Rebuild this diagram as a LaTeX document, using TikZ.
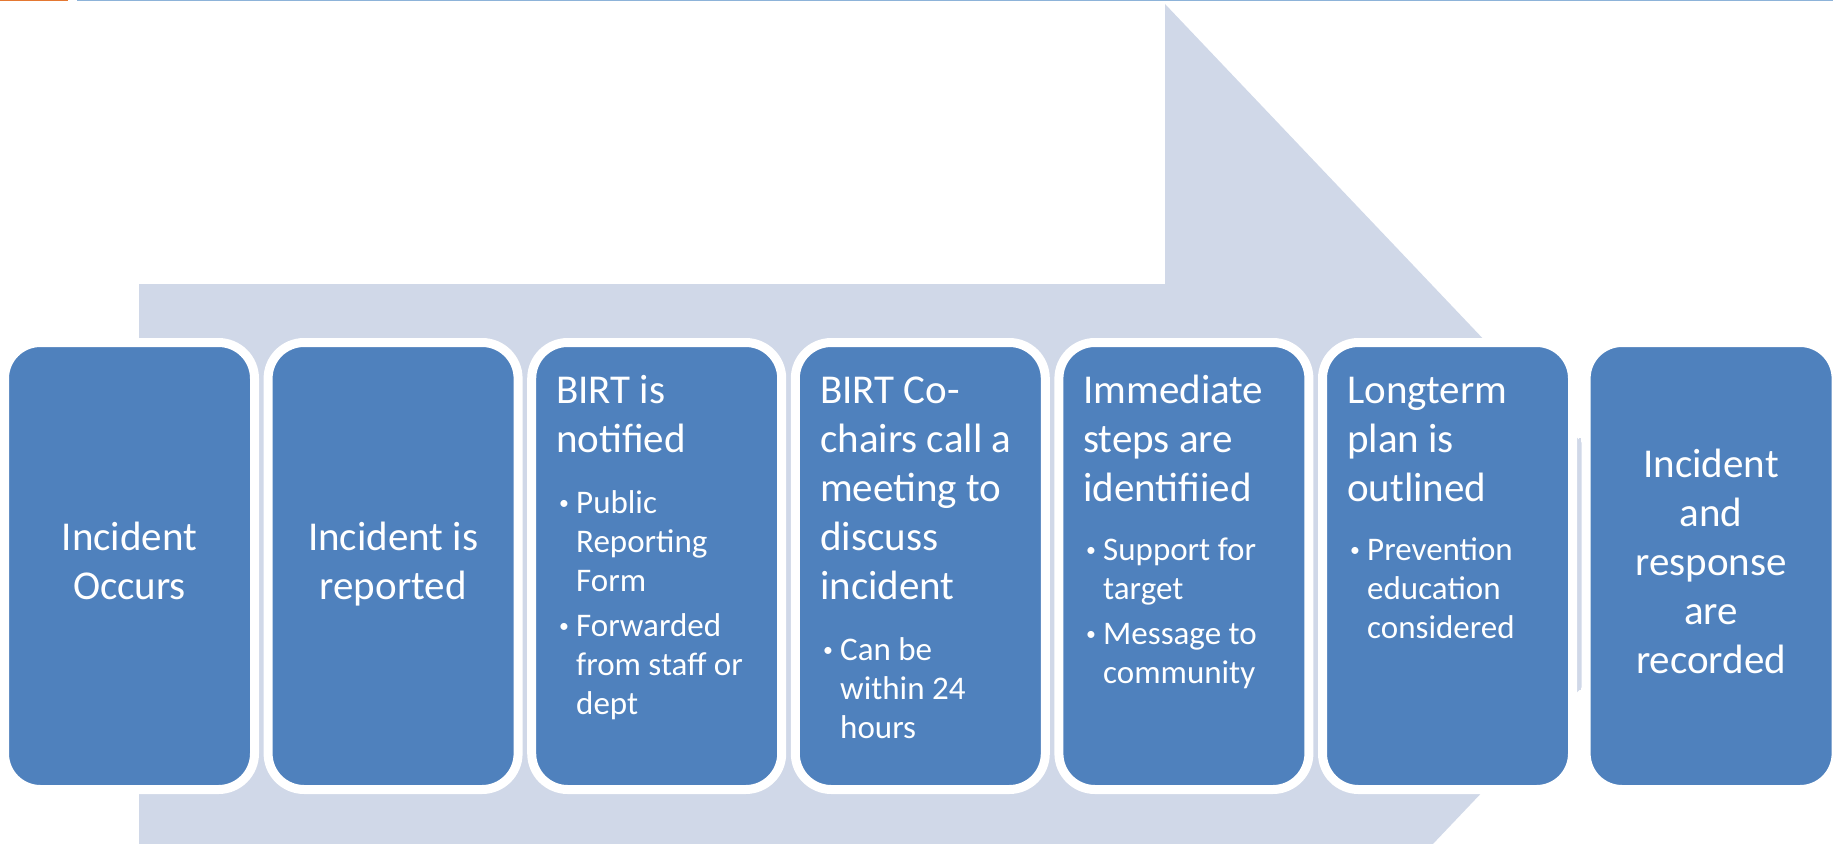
\documentclass[tikz,border=0pt]{standalone}
\usepackage{fontspec}
\setmainfont{Carlito}

\definecolor{boxblue}{RGB}{79,129,189}
\definecolor{arrowgray}{RGB}{208,216,232}
\definecolor{lineorange}{RGB}{228,120,50}
\definecolor{lineblue}{RGB}{141,179,217}

\newcommand{\lines}[2][l]{\begin{tabular}[t]{@{}#1@{}}#2\end{tabular}}
\newcommand{\bul}{\makebox[20pt][l]{\hspace{3pt}\raisebox{4pt}{\scalebox{0.6}{\textbullet}}}}
\newcommand{\ind}{\hspace{20pt}}

\tikzset{
	stepbox/.style={draw=white, line width=9pt, fill=boxblue, rounded corners=36pt,
		minimum width=250pt, minimum height=447pt, inner sep=0pt},
	ttl/.style={text=white, inner sep=0pt, font=\fontsize{41}{49}\selectfont},
	bullets/.style={text=white, inner sep=0pt, font=\fontsize{33}{39}\selectfont},
}

\begin{document}
\begin{tikzpicture}[x=1pt,y=-1pt]
		\useasboundingbox (0,0) rectangle (1833,843);
		\clip (0,0) rectangle (1833,843);
		% big arrow behind the steps
		\fill[arrowgray] (139,284) -- (1165,284) -- (1165,4) -- (1698,565) -- (1165,1126) -- (1165,846) -- (139,846) -- cycle;
		\draw[lineorange, line width=1.5pt] (0,0.75) -- (68,0.75);
		\draw[lineblue, line width=1.5pt] (77,0.75) -- (1833,0.75);
		\draw[arrowgray, line width=2pt] (1580,438) -- (1580,690);
		% the seven steps
		\foreach \i/\x in {1/129.5, 2/393.1, 3/656.7, 4/920.3, 5/1183.9, 6/1447.5, 7/1711.1}
			\node[stepbox] (b\i) at (\x,566) {};
		\node[ttl, anchor=base] (t1) at (129.5,550) {\lines[c]{Incident\\Occurs}};
		\node[ttl, anchor=base] (t2) at (393.1,550) {\lines[c]{Incident is\\reported}};
		\node[ttl, anchor=base west] (t3) at (556,403) {\lines{BIRT is\\notified}};
		\node[bullets, anchor=base west] (l3) at (556,513) {\lines{\bul Public\\\ind Reporting\\\ind Form\\[6pt]\bul Forwarded\\\ind from staff or\\\ind dept}};
		\node[ttl, anchor=base west] (t4) at (820,403) {\lines{BIRT Co-\\chairs call a\\meeting to\\discuss\\incident}};
		\node[bullets, anchor=base west] (l4) at (820,660) {\lines{\bul Can be\\\ind within 24\\\ind hours}};
		\node[ttl, anchor=base west] (t5) at (1083,403) {\lines{Immediate\\steps are\\identifiied}};
		\node[bullets, anchor=base west] (l5) at (1083,560) {\lines{\bul Support for\\\ind target\\[6pt]\bul Message to\\\ind community}};
		\node[ttl, anchor=base west] (t6) at (1347,403) {\lines{Longterm\\plan is\\outlined}};
		\node[bullets, anchor=base west] (l6) at (1347,560) {\lines{\bul Prevention\\\ind education\\\ind considered}};
		\node[ttl, anchor=base] (t7) at (1711.1,477) {\lines[c]{Incident\\and\\response\\are\\recorded}};
	\end{tikzpicture}
\end{document}
